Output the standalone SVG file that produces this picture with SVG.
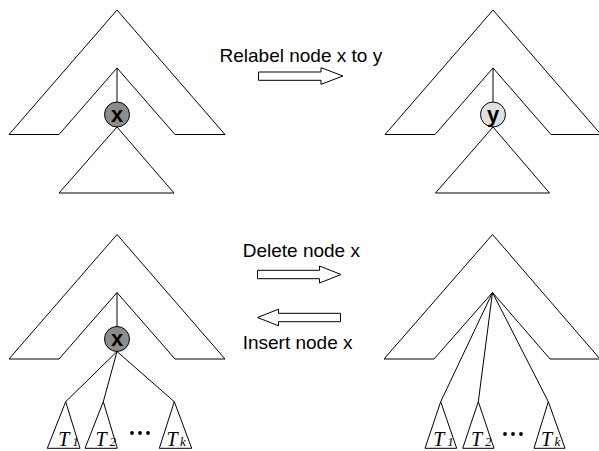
<svg xmlns="http://www.w3.org/2000/svg" width="599" height="451" viewBox="0 0 599 451">
<style>
.ln{fill:none;stroke:#000;stroke-width:1}
.sh{fill:#fff;stroke:#000;stroke-width:1}
.lbl{font-family:"Liberation Sans",Arial,sans-serif;font-size:19px;fill:#000}
.nx{font-family:"Liberation Sans",Arial,sans-serif;font-size:22px;font-weight:bold;fill:#000;text-anchor:middle}
.t{font-family:"Liberation Serif","Times New Roman",serif;font-style:italic;font-size:20px;fill:#000}
.ts{font-size:13px}
.arr{fill:#fff;stroke:#000;stroke-width:1}
</style>
<rect width="599" height="451" fill="#fff"/>
<g id="tree-top-left">
<polygon class="sh" points="117,10 9,134.5 59,134.5 117,68 175,134.5 225,134.5"/>
<line class="ln" x1="117" y1="68" x2="117" y2="102"/>
<polygon class="sh" points="117,127 59,193 174,193"/>
<circle cx="117" cy="114.5" r="12.5" fill="#8c8c8c" stroke="#000"/>
<text class="nx" x="117" y="121.5">x</text>
</g>
<g id="tree-top-right">
<polygon class="sh" points="493,10 385,134.5 435,134.5 493,68 551,134.5 601,134.5"/>
<line class="ln" x1="493" y1="68" x2="493" y2="102"/>
<polygon class="sh" points="493,127 435.5,193 549.5,193"/>
<circle cx="493" cy="114.5" r="12.5" fill="#e0e0e0" stroke="#000"/>
<text class="nx" x="493" y="121.5">y</text>
</g>
<g id="tree-bottom-left">
<polygon class="sh" points="117,234.5 9,359 59,359 117,292.5 175,359 225,359"/>
<line class="ln" x1="117" y1="292.5" x2="117" y2="326.5"/>
<circle cx="117" cy="339" r="12.5" fill="#8c8c8c" stroke="#000"/>
<text class="nx" x="117" y="346">x</text>
</g>
<g id="tree-bottom-right">
<polygon class="sh" points="492.5,234.5 384,359 434,359 492.5,292.5 550,359 600,359"/>
</g>
<g id="subtrees-left">
<polygon class="sh" points="65.7,401.7 47.3,448.3 80,448.3"/>
<polygon class="sh" points="103.3,401.7 85,448.3 117.3,448.3"/>
<polygon class="sh" points="174.3,401.7 159.3,448.3 191.7,448.3"/>
<text class="t" x="58.3" y="446">T<tspan class="ts" x="72.3">1</tspan></text>
<text class="t" x="95.5" y="446">T<tspan class="ts" x="109.5">2</tspan></text>
<text class="t" x="166.5" y="446">T<tspan class="ts" x="180">k</tspan></text>
<circle cx="132" cy="433" r="1.9"/>
<circle cx="140" cy="433" r="1.9"/>
<circle cx="148" cy="433" r="1.9"/>
</g>
<g id="subtrees-right">
<polygon class="sh" points="440.7,401.7 425,448.3 456.7,448.3"/>
<polygon class="sh" points="478.3,401.7 462.7,448.3 494,448.3"/>
<polygon class="sh" points="548.3,401.7 534,448.3 565,448.3"/>
<text class="t" x="433.3" y="446">T<tspan class="ts" x="447.3">1</tspan></text>
<text class="t" x="471" y="446">T<tspan class="ts" x="485">2</tspan></text>
<text class="t" x="541" y="446">T<tspan class="ts" x="554.5">k</tspan></text>
<circle cx="505" cy="434" r="1.9"/>
<circle cx="513" cy="434" r="1.9"/>
<circle cx="521" cy="434" r="1.9"/>
</g>
<g id="connectors">
<line class="ln" x1="117" y1="351.5" x2="65.7" y2="401.7"/>
<line class="ln" x1="117" y1="351.5" x2="103.3" y2="401.7"/>
<line class="ln" x1="117" y1="351.5" x2="174.3" y2="401.7"/>
<line class="ln" x1="492.5" y1="292.5" x2="440.7" y2="401.7"/>
<line class="ln" x1="492.5" y1="292.5" x2="478.3" y2="401.7"/>
<line class="ln" x1="492.5" y1="292.5" x2="548.3" y2="401.7"/>
</g>
<g id="arrow-relabel">
<polygon class="arr" points="258.5,72 321,72 321,67.7 343,76 321,84.3 321,80.3 258.5,80.3"/>
<text class="lbl" x="219.5" y="61.5">Relabel node x to y</text>
</g>
<g id="arrow-delete">
<polygon class="arr" points="257.5,270.3 319.5,270.3 319.5,266 341,274.5 319.5,283 319.5,278.7 257.5,278.7"/>
<text class="lbl" x="242.7" y="257.3">Delete node x</text>
</g>
<g id="arrow-insert">
<polygon class="arr" points="257.5,317.5 278.5,309.2 278.5,313.3 340.5,313.3 340.5,321.7 278.5,321.7 278.5,325.8"/>
<text class="lbl" x="242.7" y="349.3">Insert node x</text>
</g>
</svg>
